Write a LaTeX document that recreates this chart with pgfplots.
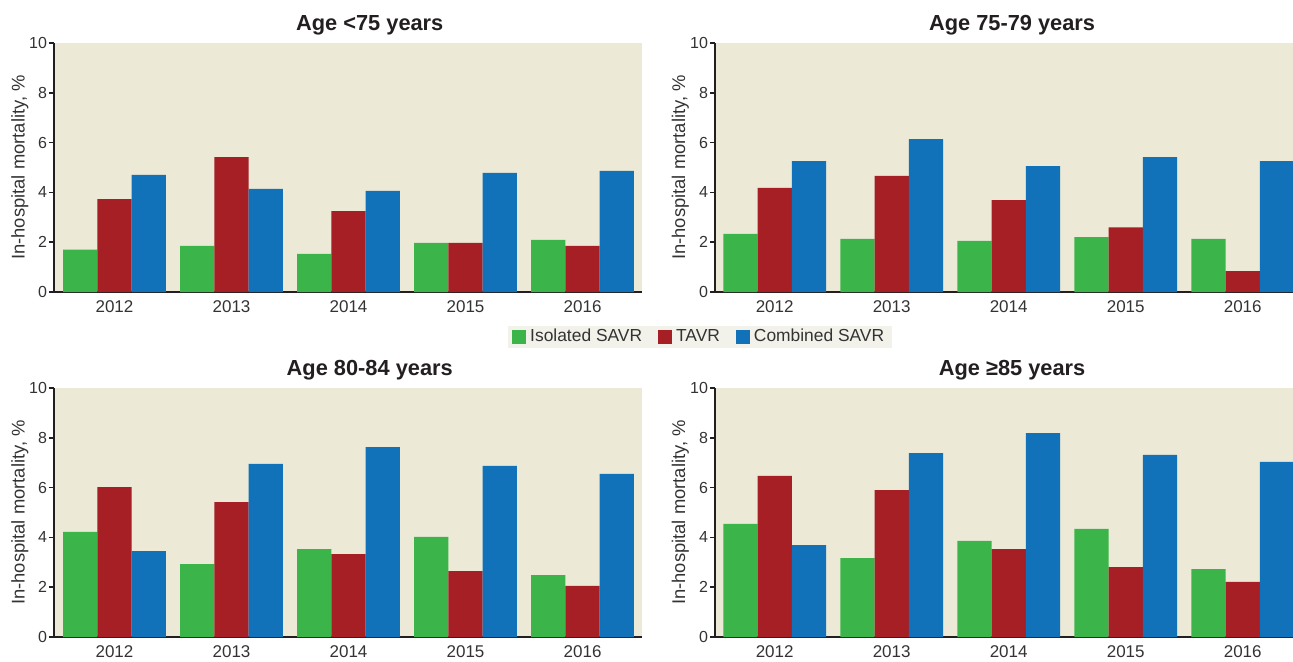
\documentclass[border=0pt]{standalone}
\usepackage{fontspec}
\setmainfont{Liberation Sans}
\usepackage{pgfplots}
\pgfplotsset{compat=1.18}
\definecolor{cgreen}{HTML}{3BB54A}
\definecolor{cred}{HTML}{A51F24}
\definecolor{cblue}{HTML}{1172BA}
\definecolor{bgc}{HTML}{ECE9D7}
\definecolor{legbg}{HTML}{F3F2EA}
\definecolor{axc}{HTML}{231F20}
\definecolor{txt}{HTML}{333333}

\pgfplotstableread{
x g r b
0 1.70 3.73 4.70
1 1.85 5.42 4.14
2 1.53 3.25 4.06
3 1.97 1.97 4.78
4 2.09 1.85 4.86
}\tA
\pgfplotstableread{
x g r b
0 2.33 4.18 5.26
1 2.13 4.66 6.14
2 2.05 3.69 5.06
3 2.20 2.60 5.42
4 2.13 0.84 5.26
}\tB
\pgfplotstableread{
x g r b
0 4.22 6.02 3.45
1 2.93 5.42 6.95
2 3.53 3.33 7.63
3 4.02 2.65 6.87
4 2.49 2.05 6.55
}\tC
\pgfplotstableread{
x g r b
0 4.54 6.47 3.69
1 3.17 5.90 7.39
2 3.86 3.53 8.19
3 4.34 2.81 7.31
4 2.73 2.21 7.03
}\tD

\pgfplotsset{
 panel/.style={
   scale only axis, height=124.5pt,
   ymin=0, ymax=10, ytick={0,2,4,6,8,10},
   xtick={0,...,4}, xticklabels={2012,2013,2014,2015,2016},
   axis lines*=left,
   axis line style={axc, line width=1pt},
   axis background/.style={fill=bgc},
   major tick length=2.5pt, tick align=outside,
   x tick style={draw=none}, y tick style={axc, line width=0.8pt},
   yticklabel style={font=\fontsize{8}{9}\selectfont, text=txt, inner xsep=0.8pt},
   xticklabel style={font=\fontsize{8.5}{10}\selectfont, text=txt, yshift=1.5pt},
   /pgf/number format/assume math mode=true,
   ylabel={In-hospital mortality, \%},
   ylabel style={font=\fontsize{9.2}{10}\selectfont, text=txt, anchor=center},
   ybar, bar width=0.293,
   title style={font=\fontsize{10.9}{12}\selectfont\bfseries, text=axc, anchor=center, yshift=3pt},
   legend image code/.code={\fill[##1] (0pt,-3.5pt) rectangle (7pt,3.5pt);},
 },
 leftp/.style={panel, width=294pt, xmin=-0.517, xmax=4.508,
   title style={at={(0.537,1)}},
   ylabel style={at={(axis description cs:-0.058,0.5)}}},
 rightp/.style={panel, width=289pt, xmin=-0.51, xmax=4.43,
   title style={at={(0.514,1)}},
   ylabel style={at={(axis description cs:-0.060,0.5)}}},
 gs/.style={fill=cgreen, draw=none, bar shift=-0.293},
 rs/.style={fill=cred, draw=none, bar shift=0},
 bs/.style={fill=cblue, draw=none, bar shift=0.293},
}

\begin{document}
\begin{tikzpicture}
\path[use as bounding box] (0,0) rectangle (646.5pt,330.5pt);

\begin{axis}[leftp, at={(27pt,184.5pt)}, anchor=south west, title={Age <75 years},
  legend style={at={(1.099,-0.181)}, anchor=center, legend columns=3, fill=legbg, draw=none,
    font=\fontsize{8.7}{10}\selectfont, text=txt, inner xsep=2pt, inner ysep=0.6pt,
    /tikz/every even column/.append style={column sep=6pt},
    nodes={inner xsep=2pt, inner ysep=1pt}}]
\addplot[gs] table[x=x,y=g] {\tA};
\addplot[rs] table[x=x,y=r] {\tA};
\addplot[bs] table[x=x,y=b] {\tA};
\legend{Isolated SAVR, TAVR, Combined SAVR}
\end{axis}

\begin{axis}[rightp, at={(357.5pt,184.5pt)}, anchor=south west, title={Age 75-79 years}]
\addplot[gs] table[x=x,y=g] {\tB};
\addplot[rs] table[x=x,y=r] {\tB};
\addplot[bs] table[x=x,y=b] {\tB};
\end{axis}

\begin{axis}[leftp, at={(27pt,12pt)}, anchor=south west, title={Age 80-84 years}]
\addplot[gs] table[x=x,y=g] {\tC};
\addplot[rs] table[x=x,y=r] {\tC};
\addplot[bs] table[x=x,y=b] {\tC};
\end{axis}

\begin{axis}[rightp, at={(357.5pt,12pt)}, anchor=south west, title={Age ≥85 years}]
\addplot[gs] table[x=x,y=g] {\tD};
\addplot[rs] table[x=x,y=r] {\tD};
\addplot[bs] table[x=x,y=b] {\tD};
\end{axis}
\end{tikzpicture}
\end{document}
